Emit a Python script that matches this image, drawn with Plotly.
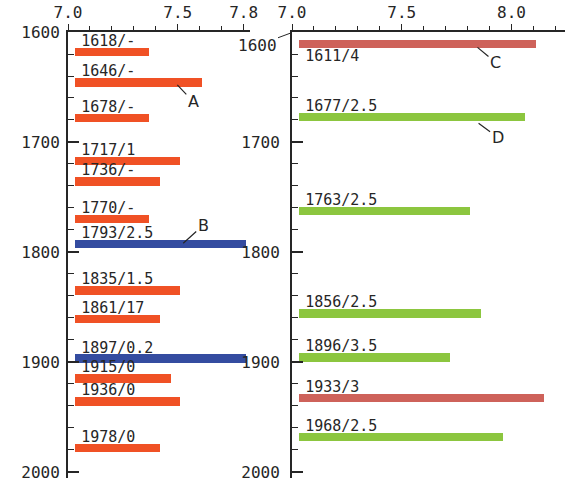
import plotly.graph_objects as go

# ---- data -------------------------------------------------------------
left_years = [1618, 1646, 1678, 1717, 1736, 1770, 1793, 1835, 1861, 1897, 1915, 1936, 1978]
left_labels = ["1618/-", "1646/-", "1678/-", "1717/1", "1736/-", "1770/-", "1793/2.5",
               "1835/1.5", "1861/17", "1897/0.2", "1915/0", "1936/0", "1978/0"]
left_mag = [7.37, 7.61, 7.37, 7.51, 7.42, 7.37, 7.81, 7.51, 7.42, 7.81, 7.47, 7.51, 7.42]
left_group = ["A", "A", "A", "A", "A", "A", "B", "A", "A", "B", "A", "A", "A"]

right_years = [1611, 1677, 1763, 1856, 1896, 1933, 1968]
right_labels = ["1611/4", "1677/2.5", "1763/2.5", "1856/2.5", "1896/3.5", "1933/3", "1968/2.5"]
right_mag = [8.11, 8.06, 7.81, 7.86, 7.72, 8.15, 7.96]
right_group = ["C", "D", "D", "D", "D", "C", "D"]

year_ticks = [1600, 1700, 1800, 1900, 2000]
year_minor = [1620, 1640, 1660, 1680, 1720, 1740, 1760, 1780, 1820, 1840, 1860, 1880,
              1920, 1940, 1960, 1980]
left_mag_ticks = [7.0, 7.5, 7.8]
left_mag_minor = [7.1, 7.2, 7.3, 7.4, 7.6, 7.7]
right_mag_ticks = [7.0, 7.5, 8.0]
right_mag_minor = [7.1, 7.2, 7.3, 7.4, 7.6, 7.7, 7.8, 7.9, 8.1, 8.2]

# ---- styling ----------------------------------------------------------
COLORS = {"A": "#F05125", "B": "#344CA0", "C": "#CE625A", "D": "#8CC63F"}
BASE = 7.03          # bars start just right of the axis line
BAR_W = 7.6          # bar thickness in years
LABEL_X = 7.06
LABEL_GAP = 9        # labels sit this many years above their bar
INK = "#262626"
MONO = "DejaVu Sans Mono"

PX_PER_UNIT = 219.5
W, H = 576, 490
ML, MR, MT, MB = 68, 11, 32, 12
plot_w = W - ML - MR
left_w = 182
right_w = 273
Y_RANGE = [2005.5, 1600]
LEFT_X_RANGE = [7.0, 7.0 + left_w / PX_PER_UNIT]
RIGHT_X_RANGE = [7.0, 7.0 + right_w / PX_PER_UNIT]
LEFT_DOM = [0, left_w / plot_w]
RIGHT_DOM = [1 - right_w / plot_w, 1]

fig = go.Figure()


def add_panel(years, labels, mags, groups, xa, ya, below=()):
    fig.add_trace(go.Scatter(
        x=[LABEL_X] * len(labels),
        y=[y + (12 if y in below else -LABEL_GAP) for y in years],
        text=labels, mode="text", textposition="middle right",
        textfont=dict(family=MONO, size=15, color=INK),
        xaxis=xa, yaxis=ya, showlegend=False, hoverinfo="skip",
        cliponaxis=False,
    ))
    for g in sorted(set(groups)):
        ys = [y for y, gg in zip(years, groups) if gg == g]
        ms = [m for m, gg in zip(mags, groups) if gg == g]
        fig.add_trace(go.Bar(
            y=ys, x=[m - BASE for m in ms], base=BASE, orientation="h",
            width=BAR_W, marker=dict(color=COLORS[g], line=dict(width=0)),
            xaxis=xa, yaxis=ya, showlegend=False, name=g,
        ))


add_panel(left_years, left_labels, left_mag, left_group, "x", "y")
add_panel(right_years, right_labels, right_mag, right_group, "x2", "y2", below=(1611,))

# empty traces that carry the minor-tick axes
for xa, ya in (("x3", "y3"), ("x4", "y4")):
    fig.add_trace(go.Scatter(x=[None], y=[None], xaxis=xa, yaxis=ya,
                             showlegend=False, hoverinfo="skip"))

common_x = dict(
    side="top", showline=True, linecolor=INK, linewidth=2, automargin=False,
    ticks="outside", ticklen=6, tickwidth=1.3, tickcolor=INK,
    tickfont=dict(family=MONO, size=16, color=INK), tickformat=".1f",
    showgrid=False, zeroline=False, fixedrange=True,
)
common_y = dict(
    range=Y_RANGE, showline=True, linecolor=INK, linewidth=2, automargin=False,
    tickvals=year_ticks, ticks="inside", ticklen=11, tickwidth=1.5, tickcolor=INK,
    tickfont=dict(family=MONO, size=16, color=INK), ticklabelstandoff=3,
    showgrid=False, zeroline=False, fixedrange=True,
)
minor_x = dict(side="top", showline=False, ticks="outside", ticklen=5, tickwidth=1.2,
               tickcolor=INK, showticklabels=False, showgrid=False, zeroline=False,
               fixedrange=True, automargin=False)
minor_y = dict(range=Y_RANGE, showline=False, ticks="inside", ticklen=6, tickwidth=1.3,
               tickcolor=INK, tickvals=year_minor, showticklabels=False, showgrid=False,
               zeroline=False, fixedrange=True, automargin=False)

fig.update_layout(
    width=W, height=H, margin=dict(l=ML, r=MR, t=MT, b=MB, autoexpand=False),
    paper_bgcolor="white", plot_bgcolor="rgba(0,0,0,0)", bargap=0,
    xaxis=dict(common_x, domain=LEFT_DOM, range=LEFT_X_RANGE,
               tickvals=left_mag_ticks, anchor="y", ticklabelstandoff=0),
    yaxis=dict(common_y, anchor="x", domain=[0, 1]),
    xaxis2=dict(common_x, domain=RIGHT_DOM, range=RIGHT_X_RANGE,
                tickvals=right_mag_ticks, anchor="y2"),
    yaxis2=dict(common_y, anchor="x2", domain=[0, 1], tickvals=year_ticks[1:],
                ticklabelstandoff=7),
    xaxis3=dict(minor_x, domain=LEFT_DOM, range=LEFT_X_RANGE,
                tickvals=left_mag_minor, anchor="y3"),
    yaxis3=dict(minor_y, anchor="x3", domain=[0, 1]),
    xaxis4=dict(minor_x, domain=RIGHT_DOM, range=RIGHT_X_RANGE,
                tickvals=right_mag_minor, anchor="y4"),
    yaxis4=dict(minor_y, anchor="x4", domain=[0, 1]),
)

# letter call-outs with short leader lines
callouts = [
    ("A", "x", "y", 7.498, 1648, 16, 17),
    ("B", "x", "y", 7.525, 1792, 20, -18),
    ("C", "x2", "y2", 7.845, 1614, 18, 15),
    ("D", "x2", "y2", 7.85, 1683, 19, 14),
]
for letter, xr, yr, xv, yv, ax, ay in callouts:
    fig.add_annotation(
        x=xv, y=yv, xref=xr, yref=yr, text=letter, showarrow=True,
        arrowhead=0, arrowwidth=1.2, arrowcolor=INK, ax=ax, ay=ay,
        font=dict(family="DejaVu Sans", size=16, color=INK),
    )

# the right panel's 1600 label is set lower, tied to the corner by a short line
fig.add_annotation(
    x=0, y=1600.5, xref="x2 domain", yref="y2", text="1600", showarrow=True,
    arrowhead=0, arrowwidth=1, arrowcolor=INK, ax=-35, ay=13,
    font=dict(family=MONO, size=16, color=INK),
)

fig.write_html("out.html")
